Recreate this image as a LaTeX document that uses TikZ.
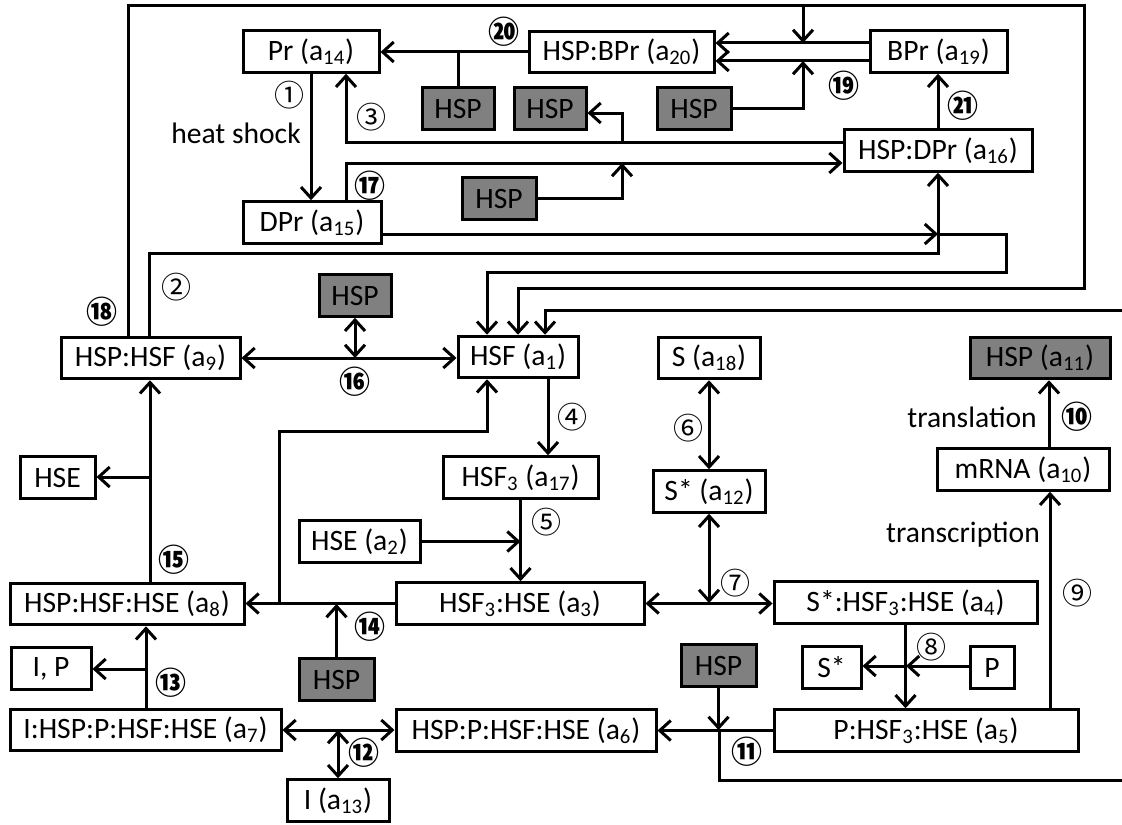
\documentclass[tikz,border=0pt]{standalone}
\usepackage{fontspec}
\setmainfont{Carlito}
\newfontfamily\circfont{Noto Sans CJK SC}
\usetikzlibrary{arrows.meta}
\definecolor{hspgray}{RGB}{128,128,128}

\begin{document}
\begin{tikzpicture}[x=0.5pt, y=-0.5pt, line width=1.5pt,
            >={Straight Barb[length=5.5pt,width=10pt]},
            box/.style={draw, line width=1.5pt, minimum height=20.75pt, inner sep=1pt, font=\fontsize{14.8}{17}\selectfont},
            hspbox/.style={box, fill=hspgray},
            num/.style={font=\circfont\fontsize{15}{15}\selectfont, inner sep=0pt},
            numb/.style={font=\circfont\bfseries\fontsize{15.5}{15.5}\selectfont, inner sep=0pt},
            lbl/.style={font=\fontsize{14.8}{17}\selectfont, inner sep=0pt}]
            \useasboundingbox (0,0) rectangle (1122,824);
            \node[box, minimum width=68pt] (pr) at (311,51.5) {Pr (a\textsubscript{14})};
            \node[box, minimum width=92.5pt] (hspbpr) at (621.5,52) {HSP:BPr (a\textsubscript{20})};
            \node[box, minimum width=68.5pt] (bpr) at (938.5,51.5) {BPr (a\textsubscript{19})};
            \node[hspbox, minimum width=36pt] (hspg1) at (458,108.5) {HSP};
            \node[hspbox, minimum width=36pt] (hspg2) at (550,108.5) {HSP};
            \node[hspbox, minimum width=37pt] (hspg3) at (694,108.5) {HSP};
            \node[box, minimum width=94pt] (hspdpr) at (938,150.5) {HSP:DPr (a\textsubscript{16})};
            \node[hspbox, minimum width=37pt] (hsp17) at (499,198.5) {HSP};
            \node[box, minimum width=69pt] (dpr) at (312,222.5) {DPr (a\textsubscript{15})};
            \node[hspbox, minimum width=36pt] (hsp16) at (355,295.5) {HSP};
            \node[box, minimum width=89.5pt] (hsphsf) at (150.5,358) {HSP:HSF (a\textsubscript{9})};
            \node[box, minimum width=60pt] (hsf) at (518,357) {HSF (a\textsubscript{1})};
            \node[box, minimum width=51pt] (s) at (709,358) {S (a\textsubscript{18})};
            \node[hspbox, minimum width=70pt] (hspa11) at (1040,358) {HSP (a\textsubscript{11})};
            \node[box, minimum width=37.5pt] (hse) at (57.5,477.5) {HSE};
            \node[box, minimum width=77.5pt] (hsf3) at (520.5,477.5) {HSF\textsubscript{3} (a\textsubscript{17})};
            \node[box, minimum width=56pt] (sstar) at (709,491.5) {S* (a\textsubscript{12})};
            \node[box, minimum width=86pt] (mrna) at (1023,469.5) {mRNA (a\textsubscript{10})};
            \node[box, minimum width=60.5pt] (hsea2) at (359.5,541.5) {HSE (a\textsubscript{2})};
            \node[box, minimum width=117pt] (a8) at (127,604) {HSP:HSF:HSE (a\textsubscript{8})};
            \node[box, minimum width=124pt] (a3) at (520,603.5) {HSF\textsubscript{3}:HSE (a\textsubscript{3})};
            \node[box, minimum width=131.5pt] (a4) at (905.5,602.5) {S*:HSF\textsubscript{3}:HSE (a\textsubscript{4})};
            \node[box, minimum width=40pt] (ip) at (51,668.5) {I, P};
            \node[hspbox, minimum width=37.5pt] (hsp14) at (336.5,679.5) {HSP};
            \node[box, minimum width=29.5pt] (sstar2) at (831.5,667.5) {S*};
            \node[box, minimum width=22pt] (p) at (992,667.5) {P};
            \node[hspbox, minimum width=37.5pt] (hsp11) at (718.5,665.5) {HSP};
            \node[box, minimum width=135.5pt] (a7) at (145.5,730) {I:HSP:P:HSF:HSE (a\textsubscript{7})};
            \node[box, minimum width=130pt] (a6) at (526,730.5) {HSP:P:HSF:HSE (a\textsubscript{6})};
            \node[box, minimum width=152pt] (a5) at (926,730.5) {P:HSF\textsubscript{3}:HSE (a\textsubscript{5})};
            \node[box, minimum width=51pt] (i13) at (338,800.5) {I (a\textsubscript{13})};
            \coordinate (top18) at (803,43);
            \coordinate (low19) at (803,61);
            \coordinate (br3) at (622,142);
            \coordinate (j2) at (938,234);
            \coordinate (j7) at (709,603);
            \coordinate (j8) at (906,666);
            \coordinate (j11) at (719,730);
            \draw[->] (pr.south) -- (pr.south |- dpr.north);
            \draw[->] (hspbpr.west) -- (hspbpr.west -| pr.east);
            \draw (hspg1.north) -- (hspg1.north |- hspbpr.west);
            \draw[->] (bpr.west |- top18) -- (hspbpr.east |- top18);
            \draw[->] (bpr.west |- low19) -- (hspbpr.east |- low19);
            \draw[->] (hsphsf.north -| 128,0) -- (128,6) -- (1084,6) -- (1084,288) -- (518,288) -- (hsf.north);
            \draw[->] (803,6) -- (top18);
            \draw[->] (hspg3.east) -- (hspg3.east -| low19) -- (low19);
            \draw[->] (hspdpr.north) -- (hspdpr.north |- bpr.south);
            \draw[->] (hspdpr.west |- br3) -- (346,142) -- (pr.south -| 346,0);
            \draw[->] (br3) -- (622,113) -- (hspg2.east |- 622,113);
            \draw[->] (dpr.north -| 346,0) -- (346,163) -- (hspdpr.west |- 0,163);
            \draw[->] (hsp17.east) -- (622,198.5) -- (622,163);
            \draw[->] (hsphsf.north -| 149,0) -- (149,253) -- (938,253) -- (hspdpr.south);
            \draw[->] (dpr.east |- j2) -- (j2);
            \draw[->] (j2) -- (1006,234) -- (1006,272) -- (487,272) -- (hsf.north -| 487,0);
            \draw[->] (hsp11.south) -- (hsp11.south |- j11);
            \draw[->] (j11) -- (719,780) -- (1130,780) -- (1130,310) -- (545,310) -- (hsf.north -| 545,0);
            \draw[->] (a5.west) -- (a6.east);
            \draw[<->] (hsphsf.east) -- (hsphsf.east -| hsf.west);
            \draw[<->] (hsp16.south) -- (hsp16.south |- hsphsf.east);
            \draw[->] (hsf.south -| 548,0) -- (hsf3.north -| 548,0);
            \draw[->] (hsea2.east) -- (hsea2.east -| hsf3.south);
            \draw[->] (hsf3.south) -- (hsf3.south |- a3.north);
            \draw[<->] (s) -- (sstar);
            \draw[<->] (a3.east) -- (a3.east -| a4.west);
            \draw[<->] (sstar.south) -- (j7);
            \draw[->] (a4.south) -- (a4.south |- a5.north);
            \draw[->] (p.west |- j8) -- (j8);
            \draw[->] (j8) -- (sstar2.east |- j8);
            \draw[->] (a5.north -| 1050,0) -- (mrna.south -| 1050,0);
            \draw[->] (mrna.north -| 1049,0) -- (hspa11.south -| 1049,0);
            \draw[<->] (a7.east) -- (a7.east -| a6.west);
            \draw[<->] (i13.north) -- (i13.north |- a7.east);
            \draw[->] (a7.north -| 146,0) -- (a8.south -| 146,0);
            \draw[->] (146,669) -- (ip.east |- 146,669);
            \draw[->] (a3.west) -- (a3.west -| a8.east);
            \draw[->] (hsp14.north) -- (hsp14.north |- a8.east);
            \draw[->] (279,604) -- (279,431) -- (487,431) -- (hsf.south -| 487,0);
            \draw[->] (a8.north -| 150,0) -- (hsphsf.south -| 150,0);
            \draw[->] (150,477) -- (hse.east |- 150,477);
            \node[lbl] (heat) at (236,133) {heat shock};
            \node[lbl] (transl) at (972,417) {translation};
            \node[lbl] (transc) at (963,535) {transcription};
            \node[num] (n1) at (289,95) {①};
            \node[num] (n2) at (176,287) {②};
            \node[num] (n3) at (371,117) {③};
            \node[num] (n4) at (572,417) {④};
            \node[num] (n5) at (546,522) {⑤};
            \node[num] (n6) at (688,428) {⑥};
            \node[num] (n7) at (735,583) {⑦};
            \node[num] (n8) at (931,647) {⑧};
            \node[num] (n9) at (1077,593) {⑨};
            \node[numb] (n10) at (1077,417) {⑩};
            \node[numb] (n11) at (747,752) {⑪};
            \node[numb] (n12) at (364,753) {⑫};
            \node[numb] (n13) at (171,683) {⑬};
            \node[numb] (n14) at (370,627) {⑭};
            \node[numb] (n15) at (174,560) {⑮};
            \node[numb] (n16) at (355,382) {⑯};
            \node[numb] (n17) at (370,186) {⑰};
            \node[numb] (n18) at (102,312) {⑱};
            \node[numb] (n19) at (844,86) {⑲};
            \node[numb] (n20) at (504,32) {⑳};
            \node[numb] (n21) at (963,106) {㉑};
        \end{tikzpicture}
\end{document}
